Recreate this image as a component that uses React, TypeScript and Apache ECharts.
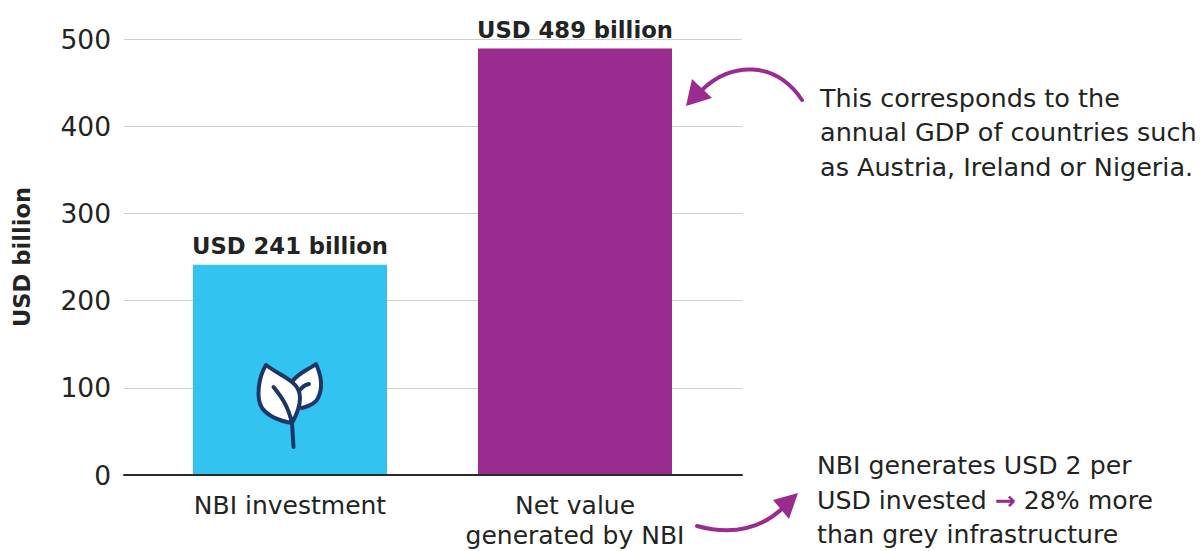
import React, { useEffect, useRef } from "react";
import * as echarts from "echarts";

const categories = ["NBI investment", "Net value\ngenerated by NBI"];
const values = [241, 489];
const barColors = ["#33c3f0", "#9a2b8f"];
const yMax = 500;
const yStep = 100;

const noteTop = ["This corresponds to the", "annual GDP of countries such", "as Austria, Ireland or Nigeria."];
const noteBottom = ["NBI generates USD 2 per", "{t|USD invested }{a|→}{t| 28% more}", "than grey infrastructure"];

const FONT = "DejaVu Sans";
const INK = "#232323";
const PURPLE = "#9a2b8f";
const NAVY = "#1c3767";

echarts.graphic.registerShape(
  "leafFill",
  echarts.graphic.extendPath(
    "M266 365 C275 372 285 376 292 382 C297 386 300 392 300 398 C300 408 296 416 292 423 C280 421 268 416 262 408 C256 399 258 378 266 365 Z " +
      "M316 364 C308 370 298 373 292 382 C297 386 300 392 300 398 C300.500 401 301 405 302 408 C310 406 316 403 318 398 C323 388 321 375 316 364 Z",
    {}
  )
);
echarts.graphic.registerShape(
  "leafLines",
  echarts.graphic.extendPath(
    "M266 365 C275 372 285 376 292 382 C297 386 300 392 300 398 C300 408 296 416 292 423 C280 421 268 416 262 408 C256 399 258 378 266 365 Z " +
      "M292 382 C298 373 308 370 316 364 C321 375 323 388 318 398 C316 403 310 406 302 408 " +
      "M292 423 L293.500 447 M273.500 387 C280 395 288 405 292 423 M309 384 C305 385 302 387 300 390",
    {}
  )
);

export default function App() {
  const ref = useRef<HTMLDivElement>(null);

  useEffect(() => {
    document.body.style.margin = "0";
    const chart = echarts.init(ref.current!, undefined, { renderer: "svg" });
    const noteText = (lines: string[], x: number, y: number, step: number, size: number) =>
      lines.map((line, i) => ({
        type: "text" as const,
        x,
        y: y + i * step,
        style: {
          text: line,
          fill: INK,
          font: `${size}px "${FONT}"`,
          verticalAlign: "middle" as const,
          rich: {
            t: { fill: INK, font: `${size}px "${FONT}"` },
            a: { fill: PURPLE, font: `bold ${size}px "${FONT}"` },
          },
        },
      }));

    chart.setOption({
      animation: false,
      grid: [
        { left: 124, width: 618, top: 39, height: 436, outerBoundsMode: "none" },
        { left: 147.5, width: 570, top: 39, height: 436, outerBoundsMode: "none" },
      ],
      xAxis: [
        {
          type: "category",
          gridIndex: 0,
          data: categories,
          z: 5,
          axisLine: { lineStyle: { color: "#2a2a2a", width: 2 } },
          axisTick: { show: false },
          axisLabel: { show: false },
        },
        {
          type: "category",
          gridIndex: 1,
          data: categories,
          axisLine: { show: false },
          axisTick: { show: false },
          axisLabel: {
            color: INK,
            fontFamily: FONT,
            fontSize: 25,
            lineHeight: 30,
            margin: 15,
            verticalAlign: "top",
          },
        },
      ],
      yAxis: [
        {
          type: "value",
          gridIndex: 0,
          min: 0,
          max: yMax,
          interval: yStep,
          name: "USD billion",
          nameLocation: "middle",
          nameGap: 91,
          nameTextStyle: { color: INK, fontFamily: FONT, fontSize: 22.6, fontWeight: "bold" },
          axisLine: { show: false },
          axisTick: { show: false },
          axisLabel: { color: INK, fontFamily: FONT, fontSize: 26.5, margin: 13 },
          splitLine: { lineStyle: { color: "#cfcfcf", width: 1 } },
        },
        {
          type: "value",
          gridIndex: 1,
          min: 0,
          max: yMax,
          interval: yStep,
          axisLine: { show: false },
          axisTick: { show: false },
          axisLabel: { show: false },
          splitLine: { show: false },
        },
      ],
      series: [
        {
          type: "bar",
          xAxisIndex: 1,
          yAxisIndex: 1,
          barWidth: 194,
          data: values.map((value, i) => ({ value, itemStyle: { color: barColors[i] } })),
          label: {
            show: true,
            position: "top",
            distance: 7,
            color: INK,
            fontFamily: FONT,
            fontSize: 22.7,
            fontWeight: "bold",
            formatter: (p: { value: number }) => `USD ${p.value} billion`,
          },
        },
      ],
      graphic: [
        { type: "leafFill", x: 0, y: 0, z: 10, style: { fill: "#ffffff" } },
        {
          type: "leafLines",
          x: 0,
          y: 0,
          z: 11,
          style: { fill: "none", stroke: NAVY, lineWidth: 4, lineCap: "round", lineJoin: "round" },
        },
        {
          type: "bezierCurve",
          z: 10,
          shape: { x1: 802, y1: 100, cpx1: 775, cpy1: 60, cpx2: 730, cpy2: 62, x2: 702, y2: 90 },
          style: { fill: "none", stroke: PURPLE, lineWidth: 4, lineCap: "round" },
        },
        {
          type: "polygon",
          z: 10,
          shape: { points: [[686, 106], [692, 79], [712, 98]] },
          style: { fill: PURPLE },
        },
        {
          type: "bezierCurve",
          z: 10,
          shape: { x1: 697, y1: 526, cpx1: 730, cpy1: 535, cpx2: 760, cpy2: 530, x2: 784, y2: 507 },
          style: { fill: "none", stroke: PURPLE, lineWidth: 4, lineCap: "round" },
        },
        {
          type: "polygon",
          z: 10,
          shape: { points: [[798, 493], [773, 500], [789, 519]] },
          style: { fill: PURPLE },
        },
        ...noteText(noteTop, 820, 97.5, 34.5, 25.5),
        ...noteText(noteBottom, 817, 465.5, 34.5, 25.2),
      ],
    });
    return () => chart.dispose();
  }, []);

  return <div ref={ref} style={{ width: 1203, height: 551 }} />;
}
